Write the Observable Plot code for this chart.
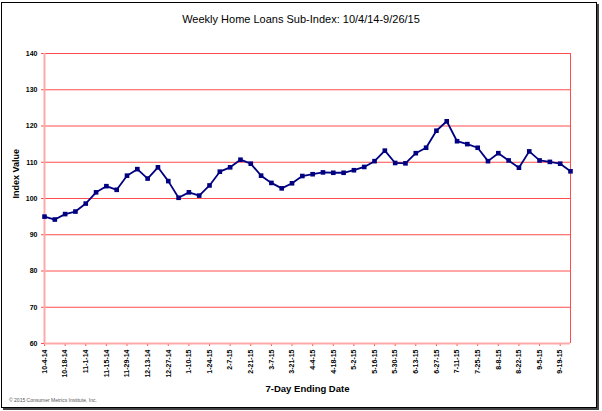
<!DOCTYPE html>
<html>
<head>
<meta charset="utf-8">
<script src="https://cdn.jsdelivr.net/npm/d3@7"></script>
<script src="https://cdn.jsdelivr.net/npm/@observablehq/plot@0.6"></script>
<style>
  html, body { margin: 0; padding: 0; background: #fff; }
  body { width: 602px; height: 411px; position: relative; overflow: hidden; font-family: "Liberation Sans", Arial, sans-serif; }
  #frame { position: absolute; left: 1px; top: 2px; width: 594px; height: 404px; border: 1px solid #000; box-shadow: 2px 2px 0 #444; }
  #title { position: absolute; left: 0; width: 602px; top: 13px; text-align: center; font-size: 11px; color: #000; }
  #chart { position: absolute; left: 0; top: 0; }
  #copy { position: absolute; left: 9px; top: 397px; font-size: 5px; color: #555; }
</style>
</head>
<body>
<div id="frame"></div>
<div id="chart"></div>
<div id="title">Weekly Home Loans Sub-Index: 10/4/14-9/26/15</div>
<div id="copy">© 2015 Consumer Metrics Institute, Inc.</div>
<script>
const dates = [
  "10-4-14","10-11-14","10-18-14","10-25-14","11-1-14","11-8-14","11-15-14","11-22-14","11-29-14",
  "12-6-14","12-13-14","12-20-14","12-27-14","1-3-15","1-10-15","1-17-15","1-24-15","1-31-15",
  "2-7-15","2-14-15","2-21-15","2-28-15","3-7-15","3-14-15","3-21-15","3-28-15","4-4-15","4-11-15",
  "4-18-15","4-25-15","5-2-15","5-9-15","5-16-15","5-23-15","5-30-15","6-6-15","6-13-15","6-20-15",
  "6-27-15","7-4-15","7-11-15","7-18-15","7-25-15","8-1-15","8-8-15","8-15-15","8-22-15","8-29-15",
  "9-5-15","9-12-15","9-19-15","9-26-15"
];
const values = [
  95.0, 94.2, 95.7, 96.4, 98.6, 101.7, 103.4, 102.4, 106.3, 108.1,
  105.5, 108.6, 104.8, 100.2, 101.7, 100.8, 103.6, 107.4, 108.6, 110.7,
  109.6, 106.3, 104.3, 102.8, 104.2, 106.2, 106.7, 107.2, 107.1, 107.1,
  107.8, 108.7, 110.3, 113.2, 109.8, 109.7, 112.5, 114.0, 118.7, 121.3,
  115.8, 115.0, 114.0, 110.3, 112.5, 110.5, 108.5, 113.0, 110.5, 110.1,
  109.6, 107.5
];
const xTickLabels = [
  "10-4-14","10-18-14","11-1-14","11-15-14","11-29-14","12-13-14","12-27-14","1-10-15","1-24-15",
  "2-7-15","2-21-15","3-7-15","3-21-15","4-4-15","4-18-15","5-2-15","5-16-15","5-30-15","6-13-15",
  "6-27-15","7-11-15","7-25-15","8-8-15","8-22-15","9-5-15","9-19-15"
];
const yTicks = [60, 70, 80, 90, 100, 110, 120, 130, 140];
const yLabel = "Index Value";
const xLabel = "7-Day Ending Date";

// week index positions for the category axis (points sit on tick marks)
const data = dates.map((d, i) => ({date: d, week: i, value: values[i]}));
const xTickIdx = xTickLabels.map(l => dates.indexOf(l));
const lastIdx = dates.length - 1;

const grid = "#ff4d4d";
const axisPink = "#ffaaaa";
const navy = "#000080";

const chart = Plot.plot({
  width: 602,
  height: 411,
  marginLeft: 44,
  marginRight: 32,
  marginTop: 53,
  marginBottom: 68,
  style: {fontFamily: "'Liberation Sans', Arial, sans-serif", background: "transparent", color: "#000"},
  x: {type: "linear", domain: [0, lastIdx], axis: null},
  y: {domain: [60, 140], axis: null},
  marks: [
    Plot.gridY(yTicks.slice(1), {stroke: grid, strokeOpacity: 1, strokeWidth: 1}),
    Plot.ruleX([lastIdx], {stroke: grid, strokeWidth: 1}),
    Plot.axisY({ticks: yTicks, tickSize: 3, stroke: grid, tickPadding: 4, fontSize: 7, fontWeight: "bold", label: null}),
    Plot.axisX({ticks: xTickIdx, tickFormat: i => dates[i], tickSize: 3, stroke: grid, tickRotate: -90, tickPadding: 3, fontSize: 7, fontWeight: "bold", label: null}),
    Plot.ruleX([0], {stroke: axisPink, strokeWidth: 2}),
    Plot.ruleY([60], {stroke: axisPink, strokeWidth: 2}),
    Plot.line(data, {x: "week", y: "value", stroke: navy, strokeWidth: 1.8}),
    Plot.dot(data, {x: "week", y: "value", symbol: "square", r: 2.6, fill: navy, stroke: null}),
    Plot.text([yLabel], {frameAnchor: "left", rotate: -90, dx: -28, fontSize: 9, fontWeight: "bold", fill: "#000"}),
    Plot.text([xLabel], {frameAnchor: "bottom", dy: 48, fontSize: 9.5, fontWeight: "bold", fill: "#000"})
  ]
});
document.getElementById("chart").appendChild(chart);
</script>
</body>
</html>
